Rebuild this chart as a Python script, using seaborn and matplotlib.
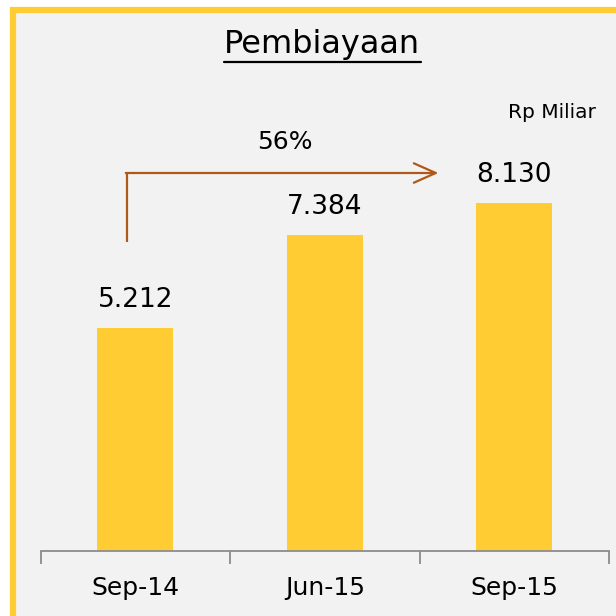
import matplotlib
matplotlib.use("Agg")
import matplotlib.pyplot as plt
from matplotlib.patches import Rectangle
import seaborn as sns
import pandas as pd

# data
periods = ["Sep-14", "Jun-15", "Sep-15"]
pembiayaan = [5212, 7384, 8130]
labels = ["5.212", "7.384", "8.130"]
growth_label = "56%"

df = pd.DataFrame({"periode": periods, "nilai": pembiayaan})

sns.set_style("white")
plt.rcParams["font.family"] = ["DejaVu Sans"]
plt.rcParams["text.color"] = "black"
plt.rcParams["xtick.color"] = "black"

fig = plt.figure(figsize=(6.16, 6.16), dpi=100)
fig.patch.set_facecolor("white")

# panel background with yellow border (top/left visible)
panel = Rectangle((13 / 616, -0.05), 1.2, 1 - 9.5 / 616 + 0.05, transform=fig.transFigure,
                  facecolor="#F2F2F2", edgecolor="#FFCC33", linewidth=4.5, zorder=-5)
fig.patches.append(panel)

ax = fig.add_axes([40.5 / 616, 65 / 616, 568.5 / 616, 451 / 616])
ax.set_facecolor("none")
ax.set_zorder(2)

sns.barplot(data=df, x="periode", y="nilai", color="#FFCD33", width=0.4,
            saturation=1, linewidth=0, ax=ax)

ax.set_xlim(-0.5, 2.5)
ax.set_ylim(0, 10540)

for i, (v, lab) in enumerate(zip(pembiayaan, labels)):
    ax.text(i, v + 650, lab, ha="center", va="center", fontsize=19, color="black")

# axis styling
for s in ["top", "right", "left"]:
    ax.spines[s].set_visible(False)
ax.spines["bottom"].set_color("#8C8C8C")
ax.spines["bottom"].set_linewidth(1.3)
ax.set_yticks([])
ax.set_xlabel("")
ax.set_ylabel("")
ax.tick_params(axis="x", which="major", length=0, labelsize=18, pad=18, labelcolor="black")
ax.set_xticks([-0.5, 0.5, 1.5, 2.5], minor=True)
ax.tick_params(axis="x", which="minor", bottom=True, length=9, width=1.3,
               color="#8C8C8C", direction="out")

# growth arrow
ax.plot([-0.044, -0.044], [7220, 8834], color="#B0581A", lw=1.6, solid_capstyle="butt")
ax.annotate("", xy=(1.60, 8834), xytext=(-0.05, 8834),
            arrowprops=dict(arrowstyle="->,head_length=0.45,head_width=0.2", color="#B0581A",
                            lw=1.6, mutation_scale=35, shrinkA=0, shrinkB=0))
ax.text(0.79, 9570, growth_label, ha="center", va="center", fontsize=18)

fig.text(552 / 616, 1 - 112 / 616, "Rp Miliar", ha="center", va="center", fontsize=14.5,
         color="black")

fig.text(322 / 616, 1 - 45 / 616, "Pembiayaan", ha="center", va="center",
         fontsize=23, color="black")
# underline
fig.add_artist(plt.Line2D([224 / 616, 421 / 616], [1 - 62 / 616, 1 - 62 / 616],
                          transform=fig.transFigure, color="black", lw=1.6))

fig.savefig("out.png", dpi=100)
